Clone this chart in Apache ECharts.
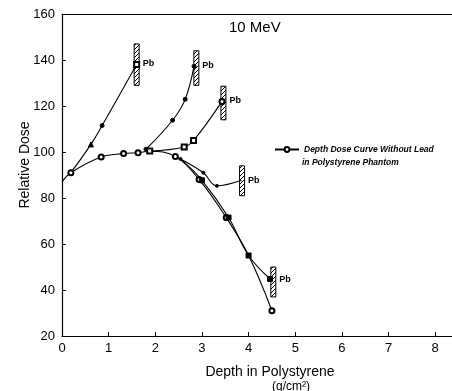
<!DOCTYPE html>
<html>
<head>
<meta charset="utf-8">
<script src="https://cdn.jsdelivr.net/npm/echarts@6/dist/echarts.min.js"></script>
<style>
  html, body { margin: 0; padding: 0; background: #fff; }
  #main { width: 452px; height: 391px; }
</style>
</head>
<body>
<div id="main"></div>
<script>
// depth (g/cm2) vs relative dose, 10 MeV
var xTicks = [0, 1, 2, 3, 4, 5, 6, 7, 8];

// depth dose curve without lead
var mainPts = [[0, 87], [0.19, 91], [0.84, 97.8], [1.32, 99.3], [1.63, 99.7], [1.88, 100.3],
               [2.43, 98], [2.94, 88], [3.52, 71.5], [4.0, 55], [4.5, 31]];
var mainSym = ['none', 'emptyCircle', 'emptyCircle', 'emptyCircle', 'emptyCircle', 'none',
               'emptyCircle', 'emptyCircle', 'emptyCircle', 'none', 'emptyCircle'];

// curves with lead at different depths
var pb1Pts = [[0.19, 91], [0.62, 103.3], [0.86, 111.5], [1.6, 138]];
var pb1Sym = ['none', 'triangle', 'circle', 'emptyRect'];

var pb2Pts = [[1.8, 101.2], [2.37, 113.8], [2.64, 122.9], [2.83, 137.3]];
var pb2Sym = ['circle', 'circle', 'circle', 'circle'];

var pb3Pts = [[1.88, 100.4], [2.62, 102.2], [2.82, 105], [3.43, 122]];
var pb3Sym = ['emptyRect', 'emptyRect', 'emptyRect', 'emptyCircle'];

var pb4Pts = [[2.54, 97], [3.03, 91], [3.32, 85.3], [3.85, 87.7]];
var pb4Sym = ['circle', 'circle', 'circle', 'none'];

var pb5Pts = [[2.54, 97], [3.0, 87.7], [3.57, 71.5], [4.0, 55], [4.46, 44.8]];
var pb5Sym = ['none', 'rect', 'rect', 'rect', 'rect'];

// lead slabs: depth, dose low, dose high, label dose
var leadBars = [[1.6, 129, 147, 138.5], [2.88, 129, 144, 137.4], [3.46, 114, 128.6, 122.5],
                [3.86, 81, 94, 87.7], [4.53, 37, 50, 44.6]];

var FONT = 'Liberation Sans';

// hatch pattern for the lead
var hatch = document.createElement('canvas');
hatch.width = 4; hatch.height = 4;
var hc = hatch.getContext('2d');
hc.fillStyle = '#fff'; hc.fillRect(0, 0, 4, 4);
hc.strokeStyle = '#000'; hc.lineWidth = 1;
hc.beginPath(); hc.moveTo(0, 4); hc.lineTo(4, 0); hc.stroke();

function items(pts, sym, size) {
  return pts.map(function (p, i) {
    return { value: p, symbol: sym[i], symbolSize: sym[i] == 'circle' ? size - 1 : size };
  });
}

function curve(name, pts, sym, size) {
  return {
    name: name,
    type: 'line',
    smooth: 0.4,
    data: items(pts, sym, size),
    showAllSymbol: true,
    lineStyle: { color: '#000', width: 1.1 },
    itemStyle: { color: '#000', borderColor: '#000', borderWidth: 1 },
    emphasis: { disabled: true },
    z: 3
  };
}

var myChart = echarts.init(document.getElementById('main'));

var pb4 = curve('pb4', pb4Pts, pb4Sym, 4);

var option = {
  animation: false,
  title: {
    text: '10 MeV',
    left: 229, top: 20, padding: 0,
    textStyle: { fontFamily: FONT, fontSize: 15, fontWeight: 'normal', color: '#000' }
  },
  legend: {
    data: ['Depth Dose Curve Without Lead'],
    left: 274, top: 145, padding: 0,
    itemWidth: 24, itemHeight: 6, itemGap: 4,
    textStyle: { fontFamily: FONT, fontSize: 8.5, fontWeight: 'bold', fontStyle: 'italic', color: '#000' }
  },
  graphic: [
    { type: 'text', left: 302, top: 158,
      style: { text: 'in Polystyrene Phantom', font: 'italic bold 8.5px ' + FONT, fill: '#000' } },
    { type: 'text', left: 272, top: 381,
      style: { text: '(g/cm²)', font: '12px ' + FONT, fill: '#000' } }
  ],
  grid: { left: 62, right: 0, top: 14, bottom: 55 },
  xAxis: [{
    type: 'value', min: 0, max: 8.36,
    name: 'Depth in Polystyrene', nameLocation: 'middle', nameGap: 29,
    nameTextStyle: { fontFamily: FONT, fontSize: 14, color: '#000', padding: [0, 0, 0, 26] },
    axisLine: { lineStyle: { color: '#000', width: 1.2 } },
    axisTick: { inside: true, length: 4, customValues: xTicks, lineStyle: { color: '#000' } },
    axisLabel: { customValues: xTicks, fontFamily: FONT, fontSize: 13, color: '#000', margin: 6 },
    splitLine: { show: false }
  }, {
    type: 'value', min: 0, max: 8.36, position: 'top',
    axisLine: { show: true, lineStyle: { color: '#000', width: 1.2 } },
    axisTick: { show: false }, axisLabel: { show: false }, splitLine: { show: false }
  }],
  yAxis: {
    type: 'value', min: 20, max: 160, interval: 20,
    name: 'Relative Dose', nameLocation: 'middle', nameGap: 30, nameMoveOverlap: false,
    nameTextStyle: { fontFamily: FONT, fontSize: 14, color: '#000', padding: [0, 0, 0, 20] },
    axisLine: { show: true, lineStyle: { color: '#000', width: 1.2 } },
    axisTick: { inside: true, length: 4, lineStyle: { color: '#000' } },
    axisLabel: { fontFamily: FONT, fontSize: 13, color: '#000', margin: 7 },
    splitLine: { show: false }
  },
  series: [
    {
      name: 'lead', type: 'custom', z: 2,
      data: leadBars,
      renderItem: function (params, api) {
        var top = api.coord([api.value(0), api.value(2)]);
        var bot = api.coord([api.value(0), api.value(1)]);
        var lab = api.coord([api.value(0), api.value(3)]);
        return {
          type: 'group',
          children: [
            { type: 'rect', shape: { x: top[0] - 2.5, y: top[1], width: 5, height: bot[1] - top[1] },
              style: { fill: { image: hatch, repeat: 'repeat' }, stroke: '#000', lineWidth: 1 } },
            { type: 'text', x: top[0] + 6, y: lab[1],
              style: { text: 'Pb', font: 'bold 9px ' + FONT, fill: '#000', verticalAlign: 'middle' } }
          ]
        };
      }
    },
    curve('Depth Dose Curve Without Lead', mainPts, mainSym, 5),
    curve('pb1', pb1Pts, pb1Sym, 5),
    curve('pb2', pb2Pts, pb2Sym, 5),
    curve('pb3', pb3Pts, pb3Sym, 5),
    pb4,
    curve('pb5', pb5Pts, pb5Sym, 5)
  ]
};

// legend icon: line with open circle
option.series[1].symbol = 'emptyCircle';
option.series[1].symbolSize = 5;

myChart.setOption(option);
</script>
</body>
</html>
